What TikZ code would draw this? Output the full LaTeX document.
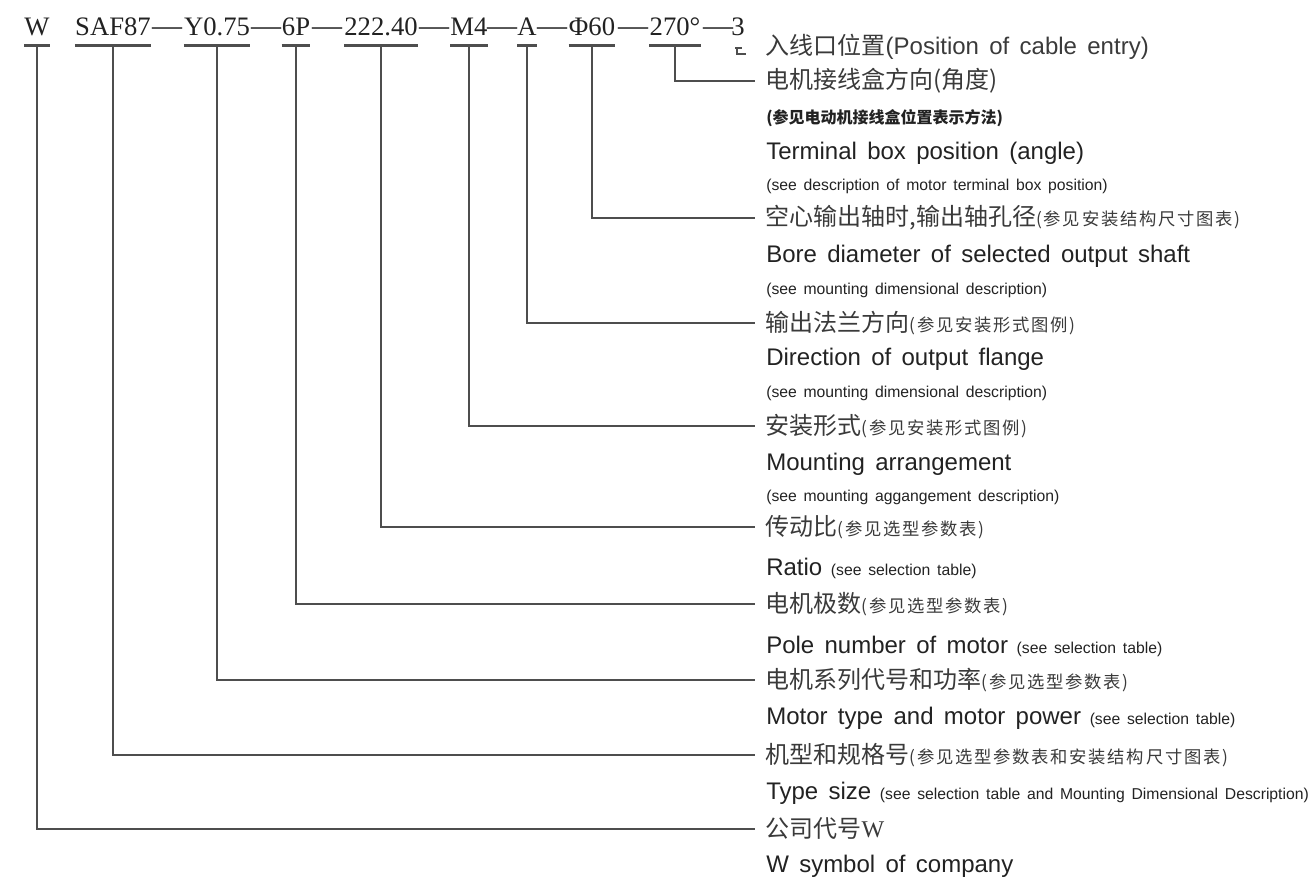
\documentclass[tikz,border=0pt]{standalone}
\usepackage{fontspec}
\setmainfont{Liberation Sans}
\newfontfamily\codefont{Liberation Serif}
\newfontfamily\enfont[WordSpace=1.55]{Liberation Sans}
\newfontfamily\cjk{Noto Sans CJK SC}
\newfontfamily\cjkwide[LetterSpace=10]{Noto Sans CJK SC}
\usetikzlibrary{positioning}
\definecolor{cink}{HTML}{222222}
\definecolor{czh}{HTML}{3A3A3A}
\definecolor{cline}{HTML}{4E4E4E}
\newcommand\zhbig[1]{{\cjk\fontsize{18}{20}\selectfont #1}}
\newcommand\zhsmall[1]{{\cjkwide\fontsize{13}{15}\selectfont #1}}
\newcommand\zhnote[1]{{\cjk\bfseries\fontsize{12}{14}\selectfont #1}}
\newcommand\enbig[1]{{\enfont\fontsize{18}{20}\selectfont #1}}
\newcommand\ensmall[1]{{\enfont\fontsize{11.8}{13}\selectfont #1}}
\newcommand\gap{\hspace{6.5pt}}
\tikzset{
  code/.style={font=\codefont\fontsize{20}{24}\selectfont, text=cink, inner sep=0pt, anchor=base, text depth=0pt},
  dashpart/.style={code, font=\codefont\fontsize{22.5}{24}\selectfont},
  uline/.style={draw=cline, line width=2.2pt},
  lead/.style={draw=cline, line width=1.5pt},
  tick/.style={draw=cline, line width=1.3pt},
  cnlabel/.style={anchor=west, inner sep=0pt, outer xsep=8pt, text=czh},
  label/.style={anchor=west, inner sep=0pt, text=cink},
}
\begin{document}
\begin{tikzpicture}[x=0.75pt, y=-0.75pt]
  \useasboundingbox (0,0) rectangle (1313,879);
  % type code
  \foreach \n/\x/\t in {w/37/W, saf/113/SAF87, mot/217/Y0.75, pole/296/6P, rat/381/222.40,
                        mnt/469/M4, fl/527/A, bore/592/Φ60, ang/675/270°, ent/738/3}
    \node[code] (c\n) at (\x,35) {\t};
  \foreach \x in {167,266,327,434,502,552,633,718} \node[dashpart] (d\x) at (\x,35) {—};
  \foreach \n in {w,saf,mot,pole,rat,mnt,fl,bore,ang}
    \draw[uline] ([yshift=-7.5pt]c\n.south west) -- ([yshift=-7.5pt]c\n.south east);
  \draw[tick] (cent.south) ++(-3,13) -- ++(7,0) ++(-5,0) -- ++(0,6) -- ++(9,0);
  % chinese labels, one per code part
  \foreach \n/\y/\t in {
      ent/47/{\zhbig{入线口位置}\enbig{(Position of cable entry)}},
      ang/81/{\zhbig{电机接线盒方向(角度)}},
      bore/218/{\zhbig{空心输出轴时,输出轴孔径}\zhsmall{(参见安装结构尺寸图表)}},
      fl/323/{\zhbig{输出法兰方向}\zhsmall{(参见安装形式图例)}},
      mnt/426/{\zhbig{安装形式}\zhsmall{(参见安装形式图例)}},
      rat/527/{\zhbig{传动比}\zhsmall{(参见选型参数表)}},
      pole/604/{\zhbig{电机极数}\zhsmall{(参见选型参数表)}},
      mot/680/{\zhbig{电机系列代号和功率}\zhsmall{(参见选型参数表)}},
      saf/755/{\zhbig{机型和规格号}\zhsmall{(参见选型参数表和安装结构尺寸图表)}},
      w/829/{\zhbig{公司代号}{\codefont\fontsize{18}{20}\selectfont W}}}
    \node[cnlabel] (l\n) at (755,\y) {\t};
  % english lines
  \foreach \n/\y/\t in {
      1/118/{\zhnote{(参见电动机接线盒位置表示方法)}},
      2/153/{\enbig{Terminal box position (angle)}},
      3/186/{\ensmall{(see description of motor terminal box position)}},
      4/256/{\enbig{Bore diameter of selected output shaft}},
      5/290/{\ensmall{(see mounting dimensional description)}},
      6/359/{\enbig{Direction of output flange}},
      7/393/{\ensmall{(see mounting dimensional description)}},
      8/464/{\enbig{Mounting arrangement}},
      9/497/{\ensmall{(see mounting aggangement description)}},
      10/568/{\enbig{Ratio}\gap\ensmall{(see selection table)}},
      11/646/{\enbig{Pole number of motor}\gap\ensmall{(see selection table)}},
      12/718/{\enbig{Motor type and motor power}\gap\ensmall{(see selection table)}},
      13/793/{\enbig{Type size}\gap\ensmall{(see selection table and Mounting Dimensional Description)}},
      14/866/{\enbig{W symbol of company}}}
    \node[label] (e\n) at (766,\y) {\t};
  % leaders
  \foreach \n in {ang,bore,fl,mnt,rat,pole,mot,saf,w}
    \draw[lead] ([yshift=-7.5pt]c\n.south) |- (l\n.west);
\end{tikzpicture}
\end{document}
